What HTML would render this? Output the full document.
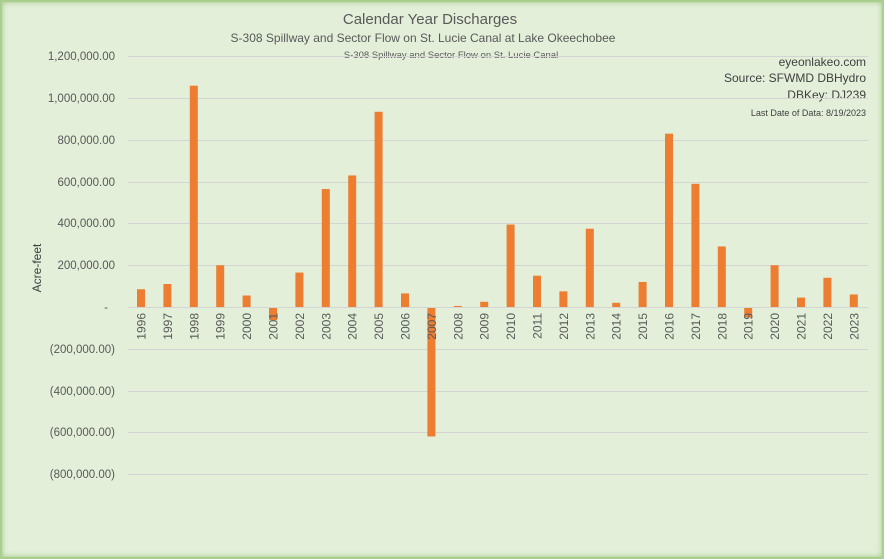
<!DOCTYPE html>
<html><head><style>
html,body{margin:0;padding:0;}
body{width:884px;height:559px;overflow:hidden;background:#e3efd9;font-family:"Liberation Sans",sans-serif;}
.frame{position:absolute;left:0;top:0;width:880px;height:555px;border:2px solid #a9cf8f;box-shadow:inset 0 0 6px #9cc57f;}
</style></head><body>
<div class="frame"></div>
<svg width="884" height="559" style="position:absolute;left:0;top:0" font-family="Liberation Sans, sans-serif">
<text x="430" y="24" font-size="15" text-anchor="middle" fill="#595959">Calendar Year Discharges</text>
<text x="423" y="42" font-size="12" text-anchor="middle" fill="#595959">S-308 Spillway and Sector Flow on St. Lucie Canal at Lake Okeechobee</text>
<text x="451" y="58" font-size="9.5" text-anchor="middle" fill="#595959">S-308 Spillway and Sector Flow on St. Lucie Canal</text>
<g font-size="12" fill="#404040" text-anchor="end">
<text x="866" y="66">eyeonlakeo.com</text>
<text x="866" y="82">Source: SFWMD DBHydro</text>
<text x="866" y="99">DBKey: DJ239</text>
<text x="866" y="116" font-size="9">Last Date of Data: 8/19/2023</text>
</g>
<text transform="translate(41,268) rotate(-90)" font-size="12" fill="#404040" text-anchor="middle">Acre-feet</text>
<g stroke="#d4d4d4" stroke-width="1">
<line x1="128" x2="868" y1="56.5" y2="56.5"/><line x1="128" x2="868" y1="98.5" y2="98.5"/>
<line x1="128" x2="868" y1="140.5" y2="140.5"/><line x1="128" x2="868" y1="182.5" y2="182.5"/>
<line x1="128" x2="868" y1="223.5" y2="223.5"/><line x1="128" x2="868" y1="265.5" y2="265.5"/>
<line x1="128" x2="868" y1="349.5" y2="349.5"/><line x1="128" x2="868" y1="391.5" y2="391.5"/>
<line x1="128" x2="868" y1="432.5" y2="432.5"/><line x1="128" x2="868" y1="474.5" y2="474.5"/>
</g>
<g font-size="11.5" fill="#595959" text-anchor="end">
<text x="115" y="60">1,200,000.00</text><text x="115" y="102">1,000,000.00</text>
<text x="115" y="144">800,000.00</text><text x="115" y="186">600,000.00</text>
<text x="115" y="227">400,000.00</text><text x="115" y="269">200,000.00</text>
<text x="108" y="311">-</text>
<text x="115" y="353">(200,000.00)</text><text x="115" y="395">(400,000.00)</text>
<text x="115" y="436">(600,000.00)</text><text x="115" y="478">(800,000.00)</text>
</g>
<g id="bars" fill="#ed7d31"></g>
<line x1="128" x2="868" y1="307.5" y2="307.5" stroke="#d4d4d4"/>
<g id="labs" font-size="12" fill="#595959"></g>
</svg>
<script>
var v=[85,110,1060,200,55,-63,165,565,630,935,65,-620,5,25,395,150,75,375,20,120,830,590,290,-50,200,45,140,60];
var b=document.getElementById('bars'),l=document.getElementById('labs'),ns='http://www.w3.org/2000/svg';
for(var i=0;i<v.length;i++){var cx=141+i*26.4,h=v[i]*0.2088;
var r=document.createElementNS(ns,'rect');r.setAttribute('x',cx-4);r.setAttribute('width',8);
r.setAttribute('y',h>0?307-h:307);r.setAttribute('height',Math.max(Math.abs(h),1));b.appendChild(r);
var t=document.createElementNS(ns,'text');t.setAttribute('transform','translate('+(cx+4.5)+',313) rotate(-90)');
t.setAttribute('text-anchor','end');t.textContent=1996+i;l.appendChild(t);}
</script>
</body></html>
